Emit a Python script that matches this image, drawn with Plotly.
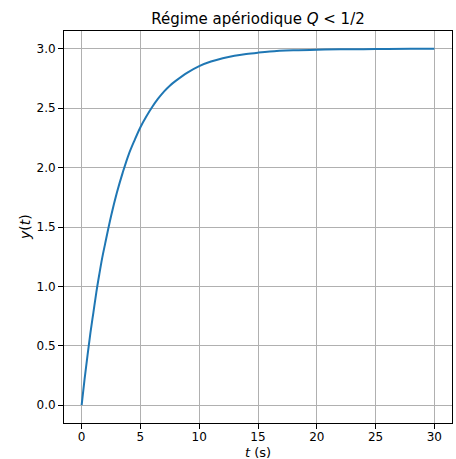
import plotly.graph_objects as go

# values
t_values = [0, 0.25, 0.5, 0.75, 1.0, 1.25, 1.5, 1.75, 2.0, 2.5, 3.0, 3.5, 4.0, 4.5,
            5.0, 5.5, 6.0, 6.5, 7.0, 7.5, 8.0, 9.0, 10.0, 11.0, 12.0, 13.0, 14.0,
            15.0, 16.0, 18.0, 20.0, 22.0, 25.0, 28.0, 30.0]
y_values = [0.0, 0.22, 0.42, 0.61, 0.78, 0.95, 1.10, 1.24, 1.36, 1.59, 1.79, 1.96, 2.11, 2.23,
            2.34, 2.43, 2.51, 2.58, 2.64, 2.69, 2.73, 2.80, 2.855, 2.893, 2.921, 2.942, 2.957,
            2.968, 2.977, 2.987, 2.993, 2.996, 2.998, 3.0, 3.0]

x_ticks = [0, 5, 10, 15, 20, 25, 30]
y_ticks = [0.0, 0.5, 1.0, 1.5, 2.0, 2.5, 3.0]
y_tick_labels = ["0.0", "0.5", "1.0", "1.5", "2.0", "2.5", "3.0"]

title_text = "Régime apériodique <i>Q</i> &lt; 1/2"
x_label = "<i>t</i> (s)"
y_label = "<i>y</i>(<i>t</i>)"

W, H = 456, 459
L, R, T, B = 64, 4, 31, 36

fig = go.Figure()
fig.add_trace(go.Scatter(x=t_values, y=y_values, mode="lines",
                         line=dict(color="#1f77b4", width=2, shape="spline", smoothing=1.0),
                         showlegend=False, hoverinfo="skip"))

font = "DejaVu Sans, sans-serif"
axis_common = dict(showline=True, linecolor="black", linewidth=1, mirror=True,
                   ticks="outside", ticklen=5, tickwidth=1, tickcolor="black",
                   showgrid=True, gridcolor="#b0b0b0", gridwidth=1, zeroline=False,
                   automargin=False,
                   tickfont=dict(family=font, size=12, color="black"))

fig.update_layout(
    width=W, height=H,
    margin=dict(l=L, r=R, t=T, b=B),
    paper_bgcolor="white", plot_bgcolor="white",
    title=dict(text=title_text, x=258 / W, xanchor="center", y=1 - 19 / H, yanchor="middle",
               font=dict(family=font, size=15, color="black")),
    xaxis=dict(range=[-1.5, 31.5], tickvals=x_ticks, ticktext=[str(v) for v in x_ticks],
               ticklabelstandoff=-2, **axis_common),
    yaxis=dict(range=[-0.15, 3.15], tickvals=y_ticks, ticktext=y_tick_labels,
               **axis_common),
    annotations=[
        dict(text=x_label, xref="paper", yref="paper", x=0.5, y=0, yshift=-(452 - (H - B)),
             xanchor="center", yanchor="middle", showarrow=False,
             font=dict(family=font, size=13, color="black")),
        dict(text=y_label, xref="paper", yref="paper", x=0, y=0.5, xshift=-(L - 25),
             yshift=(227 - (T + (H - T - B) / 2)) * -1,
             xanchor="center", yanchor="middle", textangle=-90, showarrow=False,
             font=dict(family=font, size=14, color="black")),
    ],
)

fig.write_html("out.html", config={"displayModeBar": False},
               post_script="document.body.style.margin='0';document.body.style.overflow='hidden';")
